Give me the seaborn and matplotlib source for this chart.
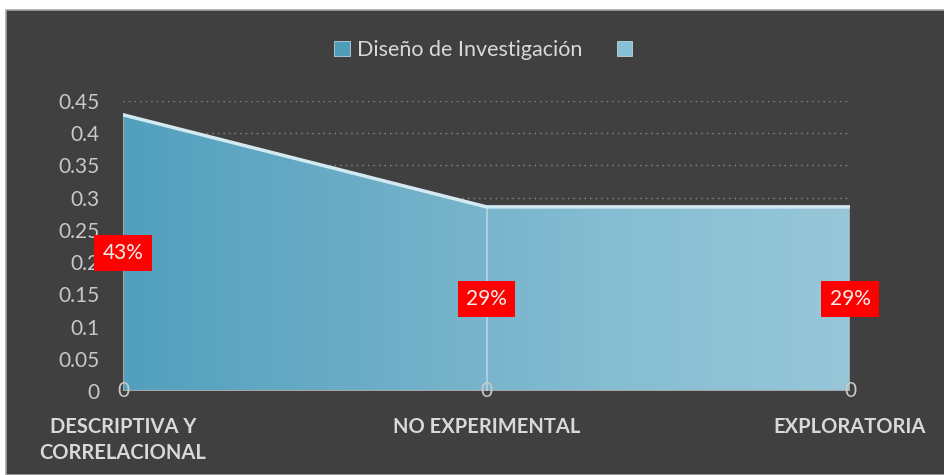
import seaborn as sns; import matplotlib.pyplot as plt
import numpy as np; import pandas as pd
from matplotlib.colors import LinearSegmentedColormap
from matplotlib.patches import Rectangle, Patch

categories = ["DESCRIPTIVA Y\nCORRELACIONAL", "NO EXPERIMENTAL", "EXPLORATORIA"]
valores = [0.4286, 0.2857, 0.2857]
etiquetas = ["43%", "29%", "29%"]
serie2 = [0, 0, 0]
yticks = [0, 0.05, 0.1, 0.15, 0.2, 0.25, 0.3, 0.35, 0.4, 0.45]

bg = '#404040'; txt = '#d9d9d9'
sns.set_theme(style='dark', rc={'axes.facecolor': bg, 'figure.facecolor': 'white'})
plt.rcParams['font.family'] = ['Lato', 'DejaVu Sans']

df = pd.DataFrame({'x': np.arange(len(categories)), 'valor': valores, 'serie2': serie2})

fig = plt.figure(figsize=(9.44, 4.75), dpi=100)
fig.patches.append(Rectangle((6/944, 0), 1, 1 - 10/475, transform=fig.transFigure,
                             facecolor=bg, edgecolor='#a6a6a6', linewidth=1.2, zorder=-10))
ax = fig.add_axes([123/944, 1 - 391/475, (850 - 123)/944, 290/475])
ax.set_facecolor('none')

# grid
for t in yticks[1:]:
    ax.axhline(t, color='#8c8c8c', linestyle=(0, (1, 3)), linewidth=1, zorder=0)

# area with gradient
poly = ax.fill_between(df['x'], df['valor'], color='none', edgecolor='#a6a6a6', linewidth=1.5, zorder=2)
cmap = LinearSegmentedColormap.from_list('g', ['#51a0be', '#6cadc6', '#85bdd2', '#97c7d9'])
im = ax.imshow(np.linspace(0, 1, 256).reshape(1, -1), cmap=cmap, aspect='auto',
               extent=[0, 2, 0, 0.45], zorder=1)
im.set_clip_path(poly.get_paths()[0], transform=ax.transData)
ax.plot([1, 1], [0, valores[1]], color='white', alpha=0.45, linewidth=1.2, zorder=3)
sns.lineplot(data=df, x='x', y='valor', ax=ax, color='#d3eaf2', linewidth=2.5, zorder=4)

# labels
for i, (v, e) in enumerate(zip(valores, etiquetas)):
    ax.text(i, v / 2, e, ha='center', va='center', color='#eeeeee', fontsize=15,
            bbox=dict(boxstyle='square,pad=0.4', facecolor='red', edgecolor='none'), zorder=6)
    ax.text(i, serie2[i], str(serie2[i]), ha='center', va='center', color='#c8c8c8',
            fontsize=15, zorder=6)

ax.set_xlim(0, 2); ax.set_ylim(0, 0.45)
ax.set_yticks(yticks)
ax.set_yticklabels([f'{t:g}' for t in yticks], color='#c8c8c8', fontsize=15)
ax.set_xticks(range(len(categories)))
ax.set_xticklabels(categories, color=txt, fontsize=14.5, fontweight='bold', va='top',
                   linespacing=1.35)
ax.tick_params(axis='x', pad=19, length=0)
ax.tick_params(axis='y', pad=17, length=0)
ax.set_xlabel(''); ax.set_ylabel('')
ax.grid(False)
sns.despine(ax=ax, left=True, bottom=True)

handles = [Patch(facecolor='#4e9cb8', edgecolor='#cfe6ee', linewidth=0.5),
           Patch(facecolor='#86c0d6', edgecolor='#cfe6ee', linewidth=0.5)]
fig.legend(handles, ['Diseño de Investigación', ''], loc='center', bbox_to_anchor=(487/944, 1 - 50/475),
           ncol=2, frameon=False, fontsize=15.5, labelcolor=txt, handlelength=0.7, handleheight=0.7,
           handletextpad=0.35, columnspacing=1.6)

plt.savefig('out.png', dpi=100)
